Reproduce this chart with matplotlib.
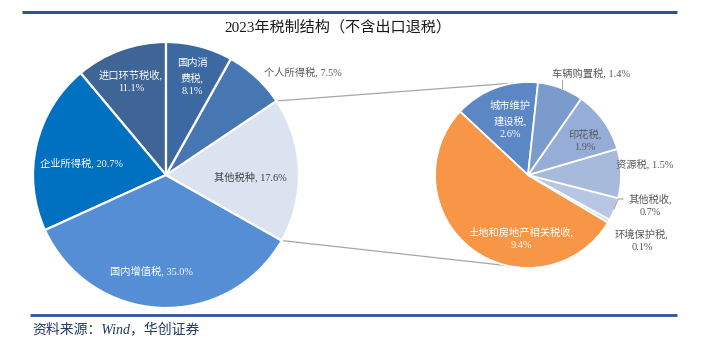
import numpy as np
import matplotlib.pyplot as plt

# datos del gráfico
main_labels = ['进口环节税收', '企业所得税', '国内增值税', '其他税种', '个人所得税', '国内消费税']
main_values = [11.1, 20.7, 35.0, 17.6, 7.5, 8.1]
main_colors = ['#3F6496', '#0070C0', '#558ED5', '#DCE3F0', '#4777B3', '#3D69A3']

sub_labels = ['城市维护建设税', '土地和房地产相关税收', '环境保护税', '其他税收', '资源税', '印花税', '车辆购置税']
sub_values = [2.6, 9.4, 0.1, 0.7, 1.5, 1.9, 1.4]
sub_colors = ['#5B87C5', '#F79646', '#C6D3EA', '#B7C6E3', '#A8BADC', '#95ADD7', '#7A9BCB']

title = '2023年税制结构（不含出口退税）'
source = '资料来源：Wind，华创证券'

W, H = 706, 350
fam = ['Liberation Serif', 'Noto Sans CJK SC']
dark = '#595959'

fig = plt.figure(figsize=(W / 100, H / 100), dpi=100)
ax = fig.add_axes([0, 0, 1, 1])


def Y(y):
    # coordenada de píxel (desde arriba) a coordenada de datos
    return H - y


c1, r1 = (166, Y(175)), 133
c2, r2 = (528, Y(175)), 93

w1, _ = ax.pie(main_values, colors=main_colors, startangle=90, counterclock=True,
               center=c1, radius=r1, wedgeprops=dict(edgecolor='white', linewidth=1.6))
w2, _ = ax.pie(sub_values, colors=sub_colors, startangle=83.8, counterclock=True,
               center=c2, radius=r2, wedgeprops=dict(edgecolor='white', linewidth=1.3))

# líneas de conexión entre los dos pies
other = w1[main_labels.index('其他税种')]
for ang, yy in [(other.theta2, c2[1] + r2), (other.theta1, c2[1] - r2)]:
    x0 = c1[0] + r1 * np.cos(np.radians(ang))
    y0 = c1[1] + r1 * np.sin(np.radians(ang))
    ax.plot([x0, c2[0]], [y0, yy], color='#A6A6A6', lw=0.9, zorder=0)

# etiquetas
lab = dict(fontsize=7.4, family=fam, ha='center', va='center', linespacing=1.55)
ax.text(131, Y(81), '进口环节税收,\n11.1%', color='white', **lab)
ax.text(192, Y(77), '国内消\n费税,\n8.1%', color='white', **lab)
ax.text(81, Y(163), '企业所得税, 20.7%', color='white', **lab)
ax.text(152, Y(271), '国内增值税, 35.0%', color='white', **lab)
ax.text(250, Y(177), '其他税种, 17.6%', color='#404040', **lab)
ax.text(303, Y(72), '个人所得税, 7.5%', color=dark, **lab)

ax.text(510, Y(120), '城市维护\n建设税,\n2.6%', color='white', **lab)
ax.text(591, Y(74), '车辆购置税, 1.4%', color=dark, **lab)
ax.plot([562, 562], [Y(80), Y(88)], color='#A6A6A6', lw=0.8)
ax.text(585, Y(140), '印花税,\n1.9%', color=dark, **lab)
ax.text(645, Y(165), '资源税, 1.5%', color=dark, **lab)
ax.text(650, Y(205), '其他税收,\n0.7%', color=dark, **lab)
ax.plot([623, 618, 614], [Y(199), Y(199), Y(209)], color='#A6A6A6', lw=0.8)
ax.text(642, Y(240), '环境保护税,\n0.1%', color=dark, **lab)
ax.text(521, Y(238), '土地和房地产相关税收,\n9.4%', color='white', **lab)

# título, líneas y fuente
ax.plot([22, 677], [Y(12), Y(12)], color='#2B5597', lw=2.2, solid_capstyle='butt')
ax.plot([30, 677], [Y(315), Y(315)], color='#2B5597', lw=2.0, solid_capstyle='butt')
ax.text(338, Y(27), title, fontsize=10.9, family=fam, ha='center', va='center', color='#1A1A1A')
ax.text(32, Y(329), source, fontsize=10, family=fam, style='italic', ha='left', va='center',
        color='#1F3864')

ax.set_xlim(0, W)
ax.set_ylim(0, H)
ax.set_aspect('auto')
ax.axis('off')

fig.savefig('out.png', dpi=100)
